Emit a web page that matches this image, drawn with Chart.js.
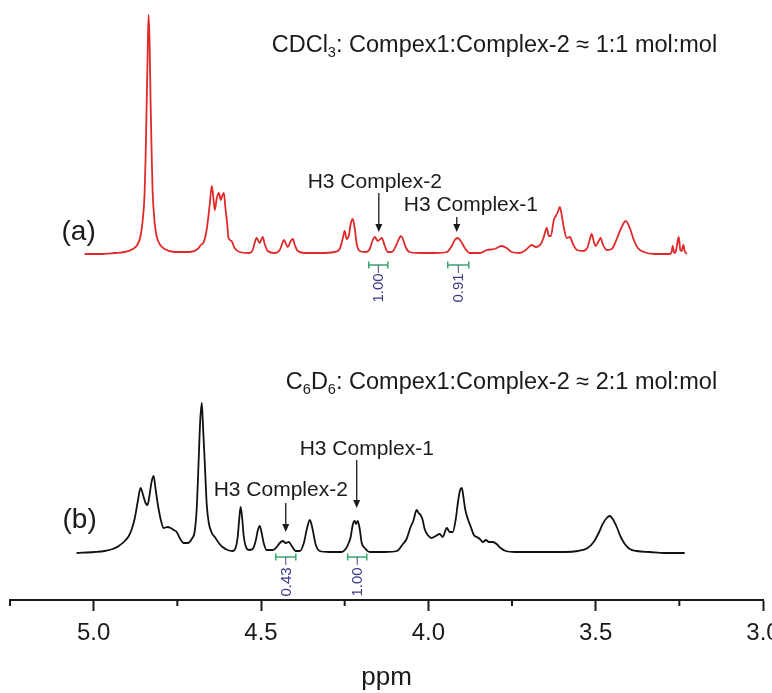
<!DOCTYPE html>
<html>
<head>
<meta charset="utf-8">
<script src="https://cdn.jsdelivr.net/npm/chart.js@4"></script>
<style>
  html, body { margin: 0; padding: 0; background: #fff; }
  #wrap { width: 772px; height: 693px; position: relative; }
</style>
</head>
<body>
<div id="wrap"><canvas id="nmrChart"></canvas></div>
<script>
// (a) CDCl3 spectrum: ppm and intensity above its own baseline
const redPpm = [
    5.027, 4.982, 4.937, 4.907, 4.883, 4.868, 4.860, 4.854, 4.848, 4.845, 4.842, 4.839, 4.836, 4.833, 4.830,
    4.827, 4.824, 4.818, 4.812, 4.803, 4.788, 4.758, 4.713, 4.689, 4.680, 4.671, 4.662, 4.653, 4.647, 4.641,
    4.638, 4.632, 4.626, 4.620, 4.616, 4.611, 4.606, 4.601, 4.597, 4.588, 4.579, 4.564, 4.534, 4.525, 4.519,
    4.513, 4.504, 4.495, 4.489, 4.480, 4.459, 4.444, 4.438, 4.432, 4.420, 4.411, 4.405, 4.399, 4.390, 4.369,
    4.325, 4.280, 4.265, 4.256, 4.250, 4.244, 4.238, 4.232, 4.226, 4.220, 4.214, 4.205, 4.187, 4.175, 4.166,
    4.160, 4.151, 4.139, 4.130, 4.121, 4.109, 4.097, 4.088, 4.082, 4.076, 4.068, 4.056, 4.026, 3.981, 3.945,
    3.930, 3.921, 3.912, 3.903, 3.891, 3.876, 3.846, 3.825, 3.802, 3.781, 3.766, 3.751, 3.727, 3.709, 3.691,
    3.679, 3.664, 3.655, 3.646, 3.640, 3.634, 3.625, 3.619, 3.613, 3.607, 3.601, 3.595, 3.586, 3.577, 3.568,
    3.556, 3.536, 3.524, 3.518, 3.512, 3.506, 3.500, 3.491, 3.485, 3.479, 3.467, 3.452, 3.437, 3.425, 3.410,
    3.398, 3.386, 3.374, 3.356, 3.323, 3.279, 3.273, 3.270, 3.265, 3.261, 3.255, 3.252, 3.247, 3.243, 3.238,
    3.234, 3.228,
];
const redInt = [
    0, 0, 1, 2, 5, 10, 18, 32, 59, 94, 144, 194, 239, 214, 154,
    104, 64, 32, 18, 10, 5, 2, 2, 5, 9, 12, 25, 50, 68, 52,
    44, 56, 61, 54, 58, 61, 45, 30, 16, 13, 6, 2, 1, 4, 11,
    16, 11, 17, 10, 3, 1, 4, 9, 14, 7, 13, 15, 9, 3, 1,
    1, 2, 5, 15, 23, 15, 18, 30, 35, 26, 10, 3, 2, 5, 14,
    17, 13, 16, 8, 2, 2, 8, 15, 18, 15, 7, 2, 1, 1, 2,
    8, 14, 16, 13, 6, 1, 1, 4, 5, 8, 6, 2, 1, 4, 9,
    7, 10, 17, 26, 18, 18, 34, 38, 42, 47, 38, 26, 16, 17, 10,
    4, 3, 7, 14, 20, 13, 8, 13, 16, 10, 4, 5, 15, 25, 33,
    26, 14, 6, 2, 0, 0, 2, 8, 1, 2, 13, 17, 4, 3, 9,
    3, 0,
];

// (b) C6D6 spectrum
const blackPpm = [
    5.051, 4.997, 4.967, 4.943, 4.925, 4.907, 4.895, 4.886, 4.877, 4.868, 4.860, 4.854, 4.845, 4.839, 4.833,
    4.827, 4.821, 4.815, 4.809, 4.800, 4.791, 4.779, 4.770, 4.761, 4.752, 4.743, 4.731, 4.719, 4.707, 4.698,
    4.692, 4.686, 4.682, 4.677, 4.673, 4.668, 4.662, 4.656, 4.647, 4.638, 4.626, 4.615, 4.600, 4.585, 4.576,
    4.570, 4.565, 4.561, 4.556, 4.552, 4.546, 4.537, 4.525, 4.516, 4.510, 4.504, 4.498, 4.492, 4.483, 4.465,
    4.453, 4.444, 4.435, 4.426, 4.417, 4.408, 4.396, 4.384, 4.372, 4.363, 4.354, 4.346, 4.337, 4.325, 4.295,
    4.259, 4.247, 4.238, 4.232, 4.226, 4.220, 4.216, 4.211, 4.205, 4.199, 4.190, 4.175, 4.130, 4.094, 4.076,
    4.065, 4.053, 4.044, 4.035, 4.029, 4.023, 4.017, 4.011, 4.002, 3.990, 3.978, 3.966, 3.957, 3.945, 3.936,
    3.927, 3.918, 3.911, 3.905, 3.900, 3.896, 3.890, 3.882, 3.873, 3.864, 3.855, 3.846, 3.837, 3.828, 3.819,
    3.807, 3.796, 3.784, 3.769, 3.742, 3.667, 3.592, 3.553, 3.524, 3.506, 3.491, 3.479, 3.467, 3.458, 3.449,
    3.437, 3.425, 3.413, 3.398, 3.377, 3.338, 3.293, 3.234,
];
const blackInt = [
    0, 1, 2, 4, 7, 12, 17, 24, 35, 52, 65, 60, 50, 48, 58,
    71, 77, 64, 50, 34, 25, 26, 25, 23, 21, 15, 10, 10, 14, 22,
    45, 95, 130, 150, 125, 90, 48, 30, 20, 16, 10, 6, 3, 2, 5,
    15, 34, 46, 34, 18, 7, 3, 4, 12, 22, 27, 20, 10, 3, 3,
    6, 10, 12, 10, 11, 7, 2, 2, 10, 24, 33, 24, 9, 2, 1,
    1, 4, 10, 16, 28, 32, 29, 32, 24, 10, 5, 1, 1, 2, 9,
    14, 26, 33, 43, 40, 38, 33, 24, 18, 15, 17, 19, 16, 25, 21,
    21, 34, 52, 63, 65, 58, 44, 34, 26, 18, 16, 14, 11, 13, 11,
    11, 9, 5, 2, 1, 1, 1, 2, 5, 11, 20, 29, 35, 37, 34,
    26, 16, 9, 4, 2, 1, 0, 0,
];

const redOffset = 346;
const blackOffset = 47;

const majorTicks = [5.0, 4.5, 4.0, 3.5, 3.0];
const minorTicks = [5.25, 4.75, 4.25, 3.75, 3.25];

// integrals: [from ppm, to ppm, value]
const redIntegrals = [[4.178, 4.121, '1.00'], [3.942, 3.879, '0.91']];
const blackIntegrals = [[4.456, 4.396, '0.43'], [4.241, 4.184, '1.00']];

const FONT = "'Liberation Sans', Arial, sans-serif";

function toPoints(ppm, vals, offset) {
    return ppm.map((p, i) => ({ x: p, y: offset + vals[i] }));
}

// text with subscripts, right edge at px when alignRight
function richText(ctx, parts, px, py, size, alignRight) {
    const sizes = parts.map(([, sub]) => (sub ? size * 0.62 : size));
    let total = 0;
    parts.forEach(([t], i) => {
        ctx.font = sizes[i] + 'px ' + FONT;
        total += ctx.measureText(t).width;
    });
    let cx = alignRight ? px - total : px;
    ctx.textAlign = 'left';
    ctx.textBaseline = 'middle';
    parts.forEach(([t, sub], i) => {
        ctx.font = sizes[i] + 'px ' + FONT;
        ctx.fillText(t, cx, sub ? py + size * 0.3 : py);
        cx += ctx.measureText(t).width;
    });
}

function arrow(ctx, px, y1, y2) {
    ctx.strokeStyle = '#1a1a1a';
    ctx.fillStyle = '#1a1a1a';
    ctx.lineWidth = 1.3;
    ctx.beginPath();
    ctx.moveTo(px, y1);
    ctx.lineTo(px, y2 - 6);
    ctx.stroke();
    ctx.beginPath();
    ctx.moveTo(px - 3.5, y2 - 8);
    ctx.lineTo(px + 3.5, y2 - 8);
    ctx.lineTo(px, y2);
    ctx.closePath();
    ctx.fill();
}

function integral(ctx, x, y, item, lineV, labelV) {
    const x1 = x.getPixelForValue(item[0]);
    const x2 = x.getPixelForValue(item[1]);
    const yy = y.getPixelForValue(lineV);
    const mid = (x1 + x2) / 2;
    ctx.strokeStyle = '#3aa66e';
    ctx.lineWidth = 1.5;
    ctx.beginPath();
    ctx.moveTo(x1, yy); ctx.lineTo(x2, yy);
    ctx.moveTo(x1, yy - 3.5); ctx.lineTo(x1, yy + 3.5);
    ctx.moveTo(x2, yy - 3.5); ctx.lineTo(x2, yy + 3.5);
    ctx.stroke();
    ctx.strokeStyle = '#4a4a8a';
    ctx.lineWidth = 1;
    ctx.beginPath();
    ctx.moveTo(mid, yy); ctx.lineTo(mid, yy + 8);
    ctx.stroke();
    ctx.save();
    ctx.translate(mid + 1, y.getPixelForValue(labelV));
    ctx.rotate(-Math.PI / 2);
    ctx.fillStyle = '#3b3a8a';
    ctx.font = '15px ' + FONT;
    ctx.textAlign = 'center';
    ctx.textBaseline = 'middle';
    ctx.fillText(item[2], 0, 0);
    ctx.restore();
}

const notes = {
    id: 'notes',
    afterDraw(chart) {
        const { ctx, scales: { x, y }, chartArea } = chart;
        ctx.save();

        // minor ticks
        ctx.strokeStyle = '#1a1a1a';
        ctx.lineWidth = 2;
        minorTicks.forEach((v) => {
            const px = x.getPixelForValue(v);
            ctx.beginPath();
            ctx.moveTo(px, chartArea.bottom);
            ctx.lineTo(px, chartArea.bottom + 6);
            ctx.stroke();
        });

        ctx.fillStyle = '#1a1a1a';
        richText(ctx, [['CDCl', 0], ['3', 1], [': Compex1:Complex-2 \u2248 1:1 mol:mol', 0]],
            x.getPixelForValue(3.137), y.getPixelForValue(554), 23.5, true);
        richText(ctx, [['C', 0], ['6', 1], ['D', 0], ['6', 1], [': Compex1:Complex-2 \u2248 2:1 mol:mol', 0]],
            x.getPixelForValue(3.137), y.getPixelForValue(217), 23.5, true);

        richText(ctx, [['(a)', 0]], x.getPixelForValue(5.096), y.getPixelForValue(368), 28);
        richText(ctx, [['(b)', 0]], x.getPixelForValue(5.093), y.getPixelForValue(80), 28);

        ctx.font = '21px ' + FONT;
        ctx.textAlign = 'center';
        ctx.textBaseline = 'middle';
        ctx.fillText('H3 Complex-2', x.getPixelForValue(4.160), y.getPixelForValue(418));
        ctx.fillText('H3 Complex-1', x.getPixelForValue(3.873), y.getPixelForValue(395));
        ctx.fillText('H3 Complex-2', x.getPixelForValue(4.441), y.getPixelForValue(110));
        ctx.fillText('H3 Complex-1', x.getPixelForValue(4.184), y.getPixelForValue(151));

        arrow(ctx, x.getPixelForValue(4.148), y.getPixelForValue(407), y.getPixelForValue(368));
        arrow(ctx, x.getPixelForValue(3.915), y.getPixelForValue(383), y.getPixelForValue(368));
        arrow(ctx, x.getPixelForValue(4.426), y.getPixelForValue(97), y.getPixelForValue(68));
        arrow(ctx, x.getPixelForValue(4.214), y.getPixelForValue(140), y.getPixelForValue(92));

        redIntegrals.forEach((it) => integral(ctx, x, y, it, 335, 312));
        blackIntegrals.forEach((it) => integral(ctx, x, y, it, 43, 18));

        ctx.restore();
    },
};

new Chart(document.getElementById('nmrChart'), {
    type: 'line',
    data: {
        datasets: [
            {
                label: 'CDCl3',
                data: toPoints(redPpm, redInt, redOffset),
                borderColor: '#e02a2a',
                borderWidth: 1.8,
                pointRadius: 0,
                cubicInterpolationMode: 'monotone',
                fill: false,
            },
            {
                label: 'C6D6',
                data: toPoints(blackPpm, blackInt, blackOffset),
                borderColor: '#111111',
                borderWidth: 1.8,
                pointRadius: 0,
                cubicInterpolationMode: 'monotone',
                fill: false,
            },
        ],
    },
    options: {
        responsive: true,
        maintainAspectRatio: false,
        animation: false,
        layout: { padding: { left: 10, right: 9, top: 0, bottom: 0 } },
        plugins: {
            legend: { display: false },
            tooltip: { enabled: false },
        },
        scales: {
            x: {
                type: 'linear',
                min: 3.0,
                max: 5.25,
                reverse: true,
                afterBuildTicks: (s) => {
                    s.ticks = majorTicks.map((v) => ({ value: v }));
                },
                afterFit: (s) => {
                    s.height = 93;
                    s.paddingLeft = 0;
                    s.paddingRight = 0;
                },
                grid: {
                    display: true,
                    drawOnChartArea: false,
                    drawTicks: true,
                    tickLength: 11,
                    tickWidth: 2,
                    tickColor: '#1a1a1a',
                },
                border: { display: true, color: '#1a1a1a', width: 2 },
                ticks: {
                    color: '#1a1a1a',
                    padding: 8,
                    maxRotation: 0,
                    font: { family: FONT, size: 24 },
                    callback: (v) => v.toFixed(1),
                },
                title: {
                    display: true,
                    text: 'ppm',
                    color: '#1a1a1a',
                    padding: { top: 0, bottom: 0 },
                    font: { family: FONT, size: 26 },
                },
            },
            y: {
                display: false,
                min: 0,
                max: 600,
            },
        },
    },
    plugins: [notes],
});
</script>
</body>
</html>
